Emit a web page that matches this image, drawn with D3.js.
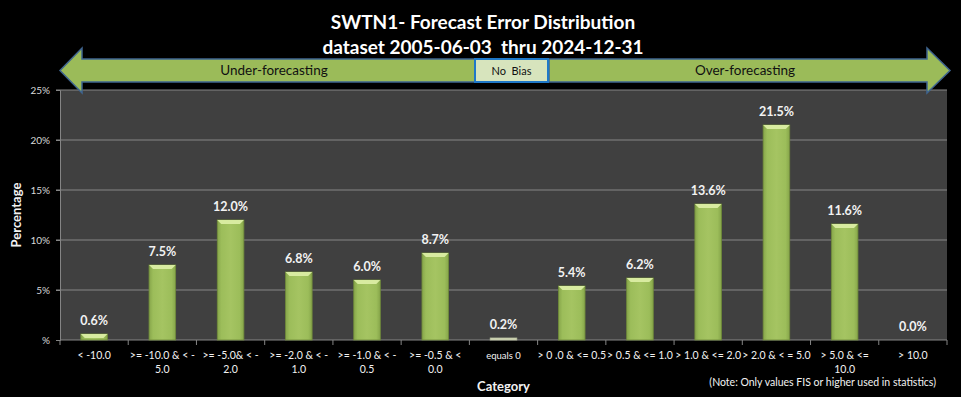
<!DOCTYPE html>
<html>
<head>
<meta charset="utf-8">
<script src="https://cdn.jsdelivr.net/npm/d3@7"></script>
<style>
  html, body { margin: 0; padding: 0; background: #000; }
  svg { display: block; font-family: Lato, "Open Sans", sans-serif; }
</style>
</head>
<body>
<svg id="chart"></svg>
<script>
const categories = [
  ['< -10.0'],
  ['>= -10.0 & < -', '5.0'],
  ['>= -5.0& < -', '2.0'],
  ['>= -2.0 & < -', '1.0'],
  ['>= -1.0 & < -', '0.5'],
  ['>= -0.5 & <', '0.0'],
  ['equals 0'],
  ['> 0 .0 & <= 0.5'],
  ['> 0.5 & <= 1.0'],
  ['> 1.0 & <= 2.0'],
  ['> 2.0 & < = 5.0'],
  ['> 5.0 & <=', '10.0'],
  ['> 10.0']
];
const percents = [0.6, 7.5, 12.0, 6.8, 6.0, 8.7, 0.2, 5.4, 6.2, 13.6, 21.5, 11.6, 0.0];
const yTicks = [0, 5, 10, 15, 20, 25];
const titleLines = ['SWTN1- Forecast Error Distribution', 'dataset 2005-06-03  thru 2024-12-31'];

const width = 961, height = 397;
const marginTop = 90, marginRight = 14, marginBottom = 57, marginLeft = 60;

const svg = d3.select('#chart').attr('width', width).attr('height', height);
svg.append('rect').attr('width', width).attr('height', height).attr('fill', '#000');

const x = d3.scaleBand()
  .domain(d3.range(categories.length))
  .range([marginLeft, width - marginRight])
  .paddingInner(0.61)
  .paddingOuter(0.305);

const y = d3.scaleLinear()
  .domain([0, 25])
  .range([height - marginBottom, marginTop]);

// horizontal shading for the green bars
const defs = svg.append('defs');
const grad = defs.append('linearGradient').attr('id', 'barGrad').attr('x1', 0).attr('x2', 1).attr('y1', 0).attr('y2', 0);
grad.append('stop').attr('offset', '0%').attr('stop-color', '#86a54a');
grad.append('stop').attr('offset', '15%').attr('stop-color', '#9cbd5a');
grad.append('stop').attr('offset', '50%').attr('stop-color', '#a5c462');
grad.append('stop').attr('offset', '85%').attr('stop-color', '#9cbd5a');
grad.append('stop').attr('offset', '100%').attr('stop-color', '#86a54a');

// plot background
svg.append('rect')
  .attr('x', marginLeft).attr('y', marginTop)
  .attr('width', width - marginRight - marginLeft)
  .attr('height', height - marginBottom - marginTop)
  .attr('fill', '#404040');

// gridlines
svg.append('g')
  .selectAll('line')
  .data(yTicks.filter(d => d > 0))
  .join('line')
  .attr('x1', marginLeft - 4).attr('x2', width - marginRight)
  .attr('y1', d => y(d)).attr('y2', d => y(d))
  .attr('stroke', '#858585').attr('stroke-width', 1.2);

// y axis
const yAxis = svg.append('g')
  .attr('transform', `translate(${marginLeft},0)`)
  .call(d3.axisLeft(y).tickValues(yTicks).tickSize(4).tickPadding(6)
    .tickFormat(d => d === 0 ? '%' : d + '%'));
yAxis.select('.domain').attr('stroke', '#858585');
yAxis.selectAll('.tick line').attr('stroke', '#858585');
yAxis.selectAll('.tick text').attr('fill', '#d9d9d9').attr('font-size', 10).attr('font-family', 'Lato, sans-serif');

// x axis line and ticks between categories
svg.append('line')
  .attr('x1', marginLeft).attr('x2', width - marginRight)
  .attr('y1', y(0)).attr('y2', y(0))
  .attr('stroke', '#858585').attr('stroke-width', 1.2);
svg.append('g')
  .selectAll('line')
  .data(d3.range(categories.length + 1))
  .join('line')
  .attr('x1', i => marginLeft + i * x.step()).attr('x2', i => marginLeft + i * x.step())
  .attr('y1', y(0)).attr('y2', y(0) + 5)
  .attr('stroke', '#858585');

// x labels (one or two lines)
const xl = svg.append('g')
  .selectAll('text')
  .data(categories)
  .join('text')
  .attr('x', (d, i) => x(i) + x.bandwidth() / 2)
  .attr('y', y(0) + 19)
  .attr('text-anchor', 'middle')
  .attr('fill', '#f2f2f2')
  .attr('font-size', (d, i) => i === 6 ? 9.5 : 10.5);
xl.selectAll('tspan')
  .data(d => d)
  .join('tspan')
  .attr('x', function() { return this.parentNode.getAttribute('x'); })
  .attr('dy', (d, i) => i === 0 ? 0 : 14)
  .text(d => d);

// bars
const bars = svg.append('g')
  .selectAll('g')
  .data(percents.map((v, i) => ({ v, i })))
  .join('g');

bars.append('rect')
  .attr('x', d => x(d.i))
  .attr('y', d => y(d.v))
  .attr('width', x.bandwidth())
  .attr('height', d => y(0) - y(d.v))
  .attr('fill', d => d.i === 6 ? '#d2d9b8' : 'url(#barGrad)')
  .attr('stroke', d => d.i === 6 ? '#b8bf9e' : '#6f8a3a')
  .attr('stroke-width', 0.8);

// light bevel on top of each bar
bars.filter(d => y(0) - y(d.v) > 4)
  .append('path')
  .attr('d', d => {
    const x0 = x(d.i), x1 = x0 + x.bandwidth(), t = y(d.v);
    return `M${x0},${t}L${x1},${t}L${x1 - 4},${t + 4}L${x0 + 4},${t + 4}Z`;
  })
  .attr('fill', '#d8eba0');

// data labels
svg.append('g')
  .selectAll('text')
  .data(percents)
  .join('text')
  .attr('x', (d, i) => x(i) + x.bandwidth() / 2)
  .attr('y', d => y(d) - 9)
  .attr('text-anchor', 'middle')
  .attr('fill', '#f2f2f2')
  .attr('font-size', 12.5)
  .attr('font-weight', 'bold')
  .text(d => d.toFixed(1) + '%');

// title
svg.append('g')
  .selectAll('text')
  .data(titleLines)
  .join('text')
  .attr('x', 483)
  .attr('y', (d, i) => 29 + i * 25)
  .attr('text-anchor', 'middle')
  .attr('fill', '#fff')
  .attr('font-size', 19)
  .attr('font-weight', 'bold')
  .style('white-space', 'pre')
  .text(d => d);

// bias arrows
const arrows = svg.append('g');
arrows.append('path')
  .attr('d', 'M60,70.5L82,48L82,59L475,59L475,82L82,82L82,93Z')
  .attr('fill', '#9bbb59').attr('stroke', '#3f6590').attr('stroke-width', 1.5);
arrows.append('path')
  .attr('d', 'M549,59L927,59L927,48L950,70.5L927,93L927,82L549,82Z')
  .attr('fill', '#9bbb59').attr('stroke', '#3f6590').attr('stroke-width', 1.5);
arrows.append('rect')
  .attr('x', 475).attr('y', 59).attr('width', 73).attr('height', 23)
  .attr('fill', '#d7e4bd').attr('stroke', '#1f78c8').attr('stroke-width', 2);

const biasLabels = [['Under-forecasting', 274], ['No  Bias', 511.5], ['Over-forecasting', 745]];
arrows.selectAll('text')
  .data(biasLabels)
  .join('text')
  .attr('x', d => d[1])
  .attr('y', 75)
  .attr('text-anchor', 'middle')
  .attr('fill', '#111')
  .attr('font-size', (d, i) => i === 1 ? 11 : 13.5)
  .style('white-space', 'pre')
  .text(d => d[0]);

// axis titles and note
svg.append('text')
  .attr('x', (marginLeft + width - marginRight) / 2)
  .attr('y', 391)
  .attr('text-anchor', 'middle')
  .attr('fill', '#f2f2f2')
  .attr('font-size', 13)
  .attr('font-weight', 'bold')
  .text('Category');

svg.append('text')
  .attr('transform', `translate(21,${(marginTop + height - marginBottom) / 2}) rotate(-90)`)
  .attr('text-anchor', 'middle')
  .attr('fill', '#f2f2f2')
  .attr('font-size', 13)
  .attr('font-weight', 'bold')
  .text('Percentage');

svg.append('text')
  .attr('x', 936)
  .attr('y', 386)
  .attr('text-anchor', 'end')
  .attr('fill', '#f2f2f2')
  .attr('font-size', 10.5)
  .text('(Note: Only values FIS or higher used in statistics)');
</script>
</body>
</html>
